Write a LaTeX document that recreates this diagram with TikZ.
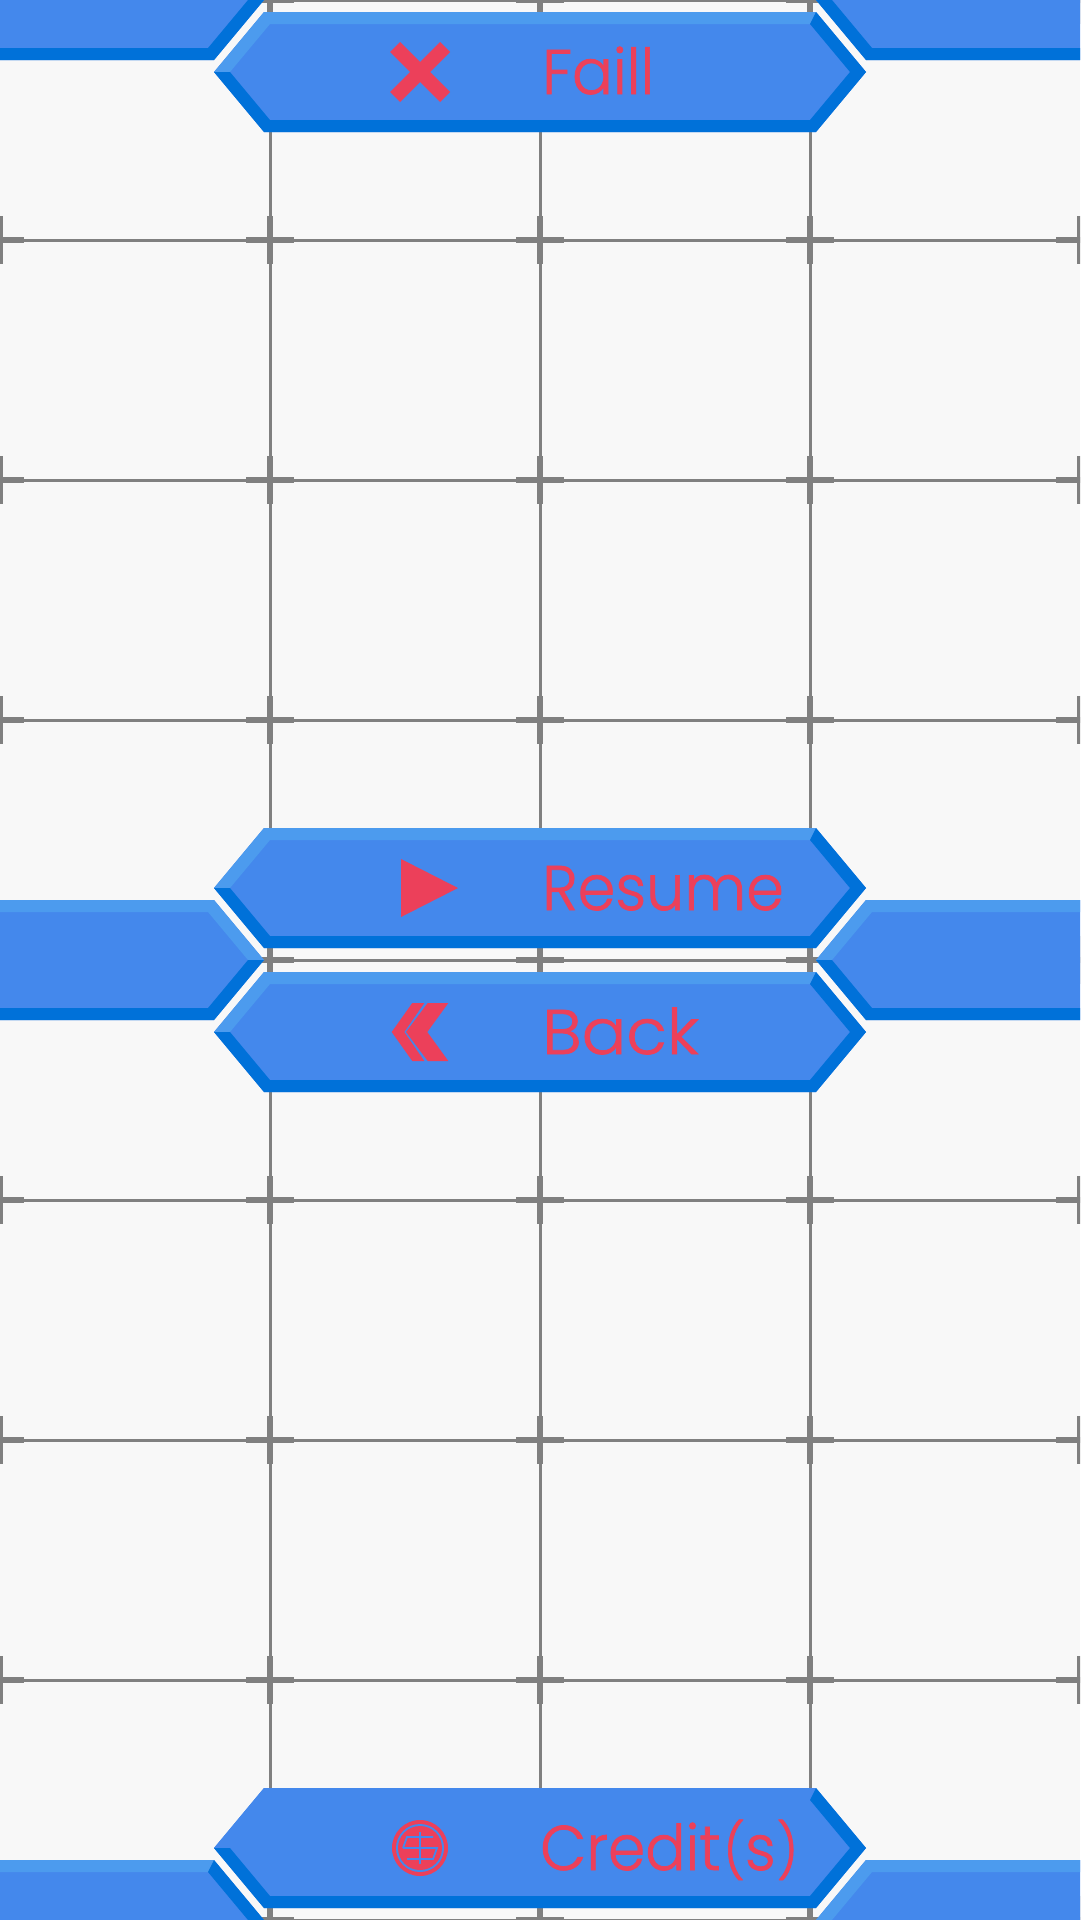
\documentclass[tikz,border=0pt]{standalone}
\usepackage{fontspec}
\usepackage{graphicx}
\usepackage{xcolor}
\usetikzlibrary{positioning}
\newfontfamily\btnfont[FakeBold=1.2]{Poppins Light}
\definecolor{pagebg}{RGB}{248,248,248}
\definecolor{gridgray}{RGB}{128,128,128}
\definecolor{btnblue}{RGB}{68,136,236}
\definecolor{btnlight}{RGB}{76,155,238}
\definecolor{btndark}{RGB}{0,113,217}
\definecolor{btnred}{RGB}{236,64,90}
\newcommand{\hexbtn}[3]{%
  \begin{scope}[shift={(#1,#2)}]
    \fill[btnblue] (-326,0) -- (-276,-60) -- (276,-60) -- (326,0) -- (276,60) -- (-276,60) -- cycle;
    \fill[#3] (-326,0) -- (-276,-60) -- (276,-60) -- (270,-48) -- (-270,-48) -- (-310,0) -- cycle;
    \fill[btndark] (-326,0) -- (-310,0) -- (-270,48) -- (270,48) -- (310,0) -- (270,-48) -- (276,-60) -- (326,0) -- (276,60) -- (-276,60) -- cycle;
  \end{scope}}
\newcommand{\parenfont}{\fontsize{54}{54}\selectfont}
\begin{document}
\begin{tikzpicture}[
    x=1pt, y=-1pt,
    gridline/.style={gridgray, line width=3pt},
    crossv/.style={gridgray, line width=6.5pt},
    crossh/.style={gridgray, line width=5.5pt},
    btnlabel/.style={anchor=base west, inner sep=0pt, text=btnred, font=\btnfont\fontsize{63}{63}\selectfont},
    iconline/.style={btnblue, line width=1.8pt}
]
    \useasboundingbox (0,0) rectangle (1080,1920);
    \clip (0,0) rectangle (1080,1920);
    \fill[pagebg] (0,0) rectangle (1080,1920);

    % Grid
    \foreach \gx in {270,540,810} {
        \draw[gridline] (\gx,0) -- (\gx,1920);
    }
    \foreach \gy in {0,240,480,720,960,1200,1440,1680,1920} {
        \draw[gridline] (0,\gy) -- (1080,\gy);
        \foreach \gx in {0,270,540,810,1080} {
            \draw[crossv] (\gx,\gy-24) -- (\gx,\gy+24);
            \draw[crossh] (\gx-24,\gy) -- (\gx+24,\gy);
        }
    }

    % Side tabs
    \hexbtn{-62}{0}{btnlight}
    \hexbtn{1142}{0}{btnlight}
    \begin{scope}[xscale=-1]
        \hexbtn{62}{960}{btnlight}
    \end{scope}
    \hexbtn{1142}{960}{btnlight}
    \hexbtn{-62}{1920}{btnlight}
    \hexbtn{1142}{1920}{btnlight}

    % Buttons
    \hexbtn{540}{72}{btnlight}
    \hexbtn{540}{888}{btnlight}
    \hexbtn{540}{1032}{btnlight}
    \hexbtn{540}{1848}{btnblue}

    % Labels
    \node[btnlabel] (faill) at (542,94) {\scalebox{0.96}[1]{Faill}};
    \node[btnlabel] (resume) at (542,910) {\scalebox{0.96}[1]{Resume}};
    \node[btnlabel] (back) at (542,1054) {\scalebox{1.05}[1]{Back}};
    \node[btnlabel] (credits) at (540,1870) {\scalebox{0.95}[1]{Credit\kern3pt{\parenfont(}s\kern1pt{\parenfont)}}};

    % Icons
    \fill[btnred] (390,52) -- (400,42) -- (420,62) -- (440,42) -- (450,52) -- (430,72) -- (450,92) -- (440,102) -- (420,82) -- (400,102) -- (390,92) -- (410,72) -- cycle;
    \fill[btnred] (401,859) -- (458,888) -- (401,917) -- cycle;
    \fill[btnred] (412.3,1003) -- (424.3,1003) -- (404.3,1032) -- (424.3,1061) -- (412.3,1061) -- (391.7,1032) -- cycle;
    \fill[btnred] (427.7,1003) -- (448.3,1003) -- (427.3,1032) -- (448.3,1061) -- (427.7,1061) -- (406,1032) -- cycle;
    \begin{scope}[shift={(420,1848)}]
        \fill[btnred] (0,0) circle (28);
        \fill[btnblue] (0,0) circle (24);
        \fill[btnred] (0,0) circle (22);
        \draw[iconline] (0,-16) -- (0,16);
        \draw[iconline] (-17,0) -- (17,0) -- (13,11) -- (-13,11);
        \draw[iconline] (13,-11) -- (-13,-11) -- (-17,0);
    \end{scope}
\end{tikzpicture}
\end{document}
